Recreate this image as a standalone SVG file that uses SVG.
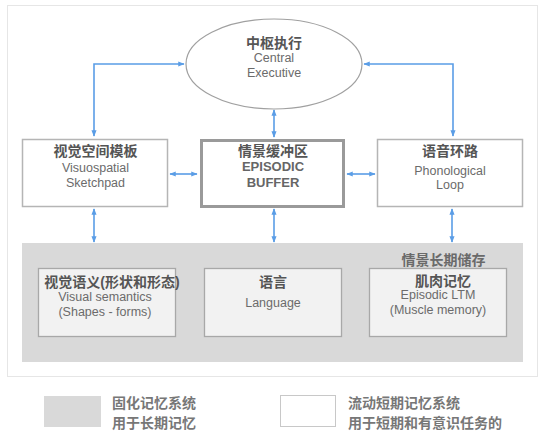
<svg xmlns="http://www.w3.org/2000/svg" width="547" height="438" viewBox="0 0 547 438">
<defs>
<style>
.t{font-family:"Liberation Sans","Noto Sans CJK SC",sans-serif;text-anchor:middle}
.cj{font-size:14px;font-weight:bold;fill:#555}
.en{font-size:12.5px;fill:#6b6b6b}
.eb{font-size:13px;font-weight:bold;fill:#666}
.lg{font-family:"Noto Sans CJK SC",sans-serif;font-size:14px;font-weight:bold;fill:#777}
.box{fill:#fff;stroke:#b5b5b5;stroke-width:1.5}
.ibox{fill:#f2f2f2;stroke:#a8a8a8;stroke-width:1.3}
.c{fill:none;stroke:#5a9de6;stroke-width:1.6}
</style>
<marker id="ah" viewBox="0 0 10 10" refX="9" refY="5" markerWidth="4" markerHeight="4" orient="auto-start-reverse">
<path d="M0,1 L10,5 L0,9 Z" fill="#5a9de6"/>
</marker>
</defs>
<rect x="0" y="0" width="547" height="438" fill="#fff"/>
<rect x="7.5" y="5.5" width="530" height="371" fill="#fff" stroke="#e6e6e6" stroke-width="1"/>
<rect id="ltm-region" x="22" y="243" width="501" height="119" fill="#d9d9d9"/>

<g id="connectors">
<path class="c" d="M94,136 V64 H184" marker-start="url(#ah)" marker-end="url(#ah)"/>
<path class="c" d="M453,136 V64 H364" marker-start="url(#ah)" marker-end="url(#ah)"/>
<path class="c" d="M274,110 V137" marker-start="url(#ah)" marker-end="url(#ah)"/>
<path class="c" d="M170,174 H197" marker-start="url(#ah)" marker-end="url(#ah)"/>
<path class="c" d="M347,174 H375" marker-start="url(#ah)" marker-end="url(#ah)"/>
<path class="c" d="M94,209 V242" marker-start="url(#ah)" marker-end="url(#ah)"/>
<path class="c" d="M274,209 V242" marker-start="url(#ah)" marker-end="url(#ah)"/>
<path class="c" d="M452,209 V242" marker-start="url(#ah)" marker-end="url(#ah)"/>
</g>

<g id="central-executive">
<ellipse cx="274" cy="64" rx="88" ry="45" fill="#fff" stroke="#a0a0a0" stroke-width="1.2"/>
<text class="t cj" x="274" y="48">中枢执行</text>
<text class="t en" x="274" y="61.5">Central</text>
<text class="t en" x="274" y="76.5">Executive</text>
</g>

<g id="visuospatial">
<rect class="box" x="22.5" y="139.5" width="145" height="67"/>
<text class="t cj" x="95.5" y="155.7">视觉空间模板</text>
<text class="t en" x="95.5" y="172.2">Visuospatial</text>
<text class="t en" x="95.5" y="186.8">Sketchpad</text>
</g>

<g id="episodic-buffer">
<rect x="201.5" y="140.5" width="142" height="66" fill="#fff" stroke="#9a9a9a" stroke-width="3"/>
<text class="t cj" x="273" y="155.7">情景缓冲区</text>
<text class="t eb" x="273" y="170.5">EPISODIC</text>
<text class="t eb" x="273" y="187.2">BUFFER</text>
</g>

<g id="phonological">
<rect class="box" x="377.5" y="139.5" width="145" height="67"/>
<text class="t cj" x="450" y="155.7">语音环路</text>
<text class="t en" x="450" y="174.5">Phonological</text>
<text class="t en" x="450" y="188.5">Loop</text>
</g>

<g id="ltm-label">
<text class="t cj" x="443.5" y="265" style="fill:#6a6a6a">情景长期储存</text>
</g>

<g id="visual-semantics">
<rect class="ibox" x="38.5" y="268.5" width="137" height="68"/>
<text class="t cj" x="112" y="286.7">视觉语义(形状和形态)</text>
<text class="t en" x="105" y="301.2">Visual semantics</text>
<text class="t en" x="105" y="315.5">(Shapes - forms)</text>
</g>

<g id="language">
<rect class="ibox" x="204.5" y="268.5" width="137" height="68"/>
<text class="t cj" x="273" y="287.3">语言</text>
<text class="t en" x="273" y="306.8">Language</text>
</g>

<g id="episodic-ltm">
<rect class="ibox" x="369.5" y="268.5" width="137" height="68"/>
<text class="t cj" x="443" y="286">肌肉记忆</text>
<text class="t en" x="438" y="298.5">Episodic LTM</text>
<text class="t en" x="438" y="313.8">(Muscle memory)</text>
</g>

<g id="legend-fixed">
<rect x="44" y="396" width="57" height="31" fill="#d9d9d9"/>
<text class="lg" x="112" y="408.3">固化记忆系统</text>
<text class="lg" x="112" y="427.7">用于长期记忆</text>
</g>

<g id="legend-fluid">
<rect x="280.5" y="395.5" width="55" height="31" fill="#fff" stroke="#c8c8c8" stroke-width="1"/>
<text class="lg" x="348" y="408.3">流动短期记忆系统</text>
<text class="lg" x="348" y="427.7">用于短期和有意识任务的</text>
</g>
</svg>
